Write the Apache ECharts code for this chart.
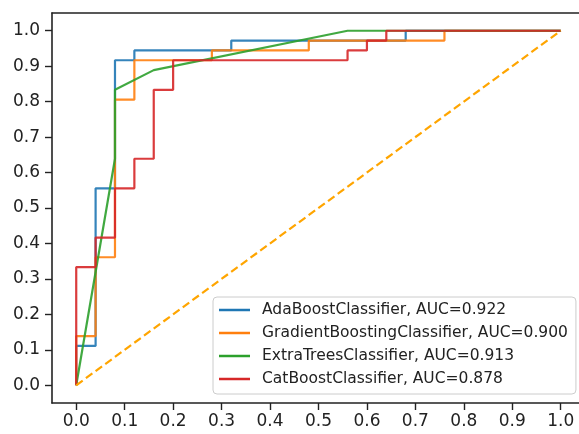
<!DOCTYPE html>
<html>
<head>
<meta charset="utf-8">
<script src="https://cdn.jsdelivr.net/npm/echarts@6/dist/echarts.min.js"></script>
<style>html,body{margin:0;padding:0;background:#fff}#c{width:579px;height:434px}</style>
</head>
<body>
<div id="c"></div>
<script>
const tickValues = [0, 0.1, 0.2, 0.3, 0.4, 0.5, 0.6, 0.7, 0.8, 0.9, 1.0];
const tickLabels = ['0.0','0.1','0.2','0.3','0.4','0.5','0.6','0.7','0.8','0.9','1.0'];

const seriesNames = [
  'AdaBoostClassifier, AUC=0.922',
  'GradientBoostingClassifier, AUC=0.900',
  'ExtraTreesClassifier, AUC=0.913',
  'CatBoostClassifier, AUC=0.878'
];

const adaFpr = [0, 0, 0.04, 0.04, 0.08, 0.08, 0.12, 0.12, 0.32, 0.32, 0.68, 0.68, 1];
const adaTpr = [0, 0.1111, 0.1111, 0.5556, 0.5556, 0.9167, 0.9167, 0.9444, 0.9444, 0.9722, 0.9722, 1, 1];

const gbFpr = [0, 0, 0.04, 0.04, 0.08, 0.08, 0.12, 0.12, 0.28, 0.28, 0.48, 0.48, 0.76, 0.76, 1];
const gbTpr = [0, 0.1389, 0.1389, 0.3611, 0.3611, 0.8056, 0.8056, 0.9167, 0.9167, 0.9444, 0.9444, 0.9722, 0.9722, 1, 1];

const etFpr = [0, 0.08, 0.08, 0.16, 0.56, 1];
const etTpr = [0, 0.6389, 0.8333, 0.8889, 1, 1];

const cbFpr = [0, 0, 0.04, 0.04, 0.08, 0.08, 0.12, 0.12, 0.16, 0.16, 0.2, 0.2, 0.56, 0.56, 0.6, 0.6, 0.64, 0.64, 1];
const cbTpr = [0, 0.3333, 0.3333, 0.4167, 0.4167, 0.5556, 0.5556, 0.6389, 0.6389, 0.8333, 0.8333, 0.9167, 0.9167, 0.9444, 0.9444, 0.9722, 0.9722, 1, 1];

const diagX = [0, 1];
const diagY = [0, 1];

const colors = ['#1f77b4', '#ff7f0e', '#2ca02c', '#d62728'];

function pairs(xs, ys) { return xs.map((x, i) => [x, ys[i]]); }

const curves = [
  pairs(adaFpr, adaTpr),
  pairs(gbFpr, gbTpr),
  pairs(etFpr, etTpr),
  pairs(cbFpr, cbTpr)
];

const chart = echarts.init(document.getElementById('c'), null, {renderer: 'canvas'});

const labelFmt = function (v) {
  const i = tickValues.findIndex(t => Math.abs(t - v) < 1e-6);
  return i >= 0 ? tickLabels[i] : '';
};

const lineCol = '#222';

const series = curves.map((d, i) => ({
  name: seriesNames[i],
  type: 'line',
  data: d,
  showSymbol: false,
  symbol: 'none',
  lineStyle: {color: colors[i], width: 2.2, opacity: 0.9},
  itemStyle: {color: colors[i]},
  z: 3 + i,
  animation: false
}));

series.push({
  name: 'diag',
  type: 'line',
  data: pairs(diagX, diagY),
  showSymbol: false,
  symbol: 'none',
  lineStyle: {color: '#ffa500', width: 2.2, type: [8, 4]},
  z: 8,
  animation: false
});

chart.setOption({
  animation: false,
  grid: {left: 52, top: 13, right: 0, bottom: 31, show: false},
  xAxis: [{
    type: 'value',
    min: -0.05,
    max: 1.0377,
    splitLine: {show: false},
    axisLine: {show: true, onZero: false, lineStyle: {color: lineCol, width: 1.6}},
    axisTick: {show: true, length: 7, customValues: tickValues, lineStyle: {color: lineCol, width: 1.4}},
    axisLabel: {customValues: tickValues, color: '#222', fontFamily: 'DejaVu Sans', fontSize: 17, margin: 10, formatter: labelFmt}
  }, {
    type: 'value',
    position: 'top',
    min: -0.05,
    max: 1.0377,
    splitLine: {show: false},
    axisLine: {show: true, onZero: false, lineStyle: {color: lineCol, width: 1.6}},
    axisTick: {show: false},
    axisLabel: {show: false}
  }],
  yAxis: {
    type: 'value',
    min: -0.05,
    max: 1.05,
    splitLine: {show: false},
    axisLine: {show: true, onZero: false, lineStyle: {color: lineCol, width: 1.6}},
    axisTick: {show: true, length: 7, customValues: tickValues, lineStyle: {color: lineCol, width: 1.4}},
    axisLabel: {customValues: tickValues, color: '#222', fontFamily: 'DejaVu Sans', fontSize: 17, margin: 12, formatter: labelFmt}
  },
  legend: {
    data: seriesNames.map((n, i) => ({name: n, icon: 'rect', itemStyle: {color: colors[i]}})),
    orient: 'vertical',
    left: 213,
    top: 297,
    itemWidth: 31,
    itemHeight: 2.5,
    itemGap: 5,
    padding: [4, 8, 6, 6],
    backgroundColor: 'rgba(255,255,255,0.8)',
    borderColor: '#cccccc',
    borderWidth: 1,
    borderRadius: 4,
    textStyle: {
      color: '#222',
      fontFamily: 'DejaVu Sans',
      fontSize: 15.5,
      lineHeight: 18,
      padding: [0, 0, 0, 7]
    },
    selectedMode: false
  },
  series: series
});
</script>
</body>
</html>
